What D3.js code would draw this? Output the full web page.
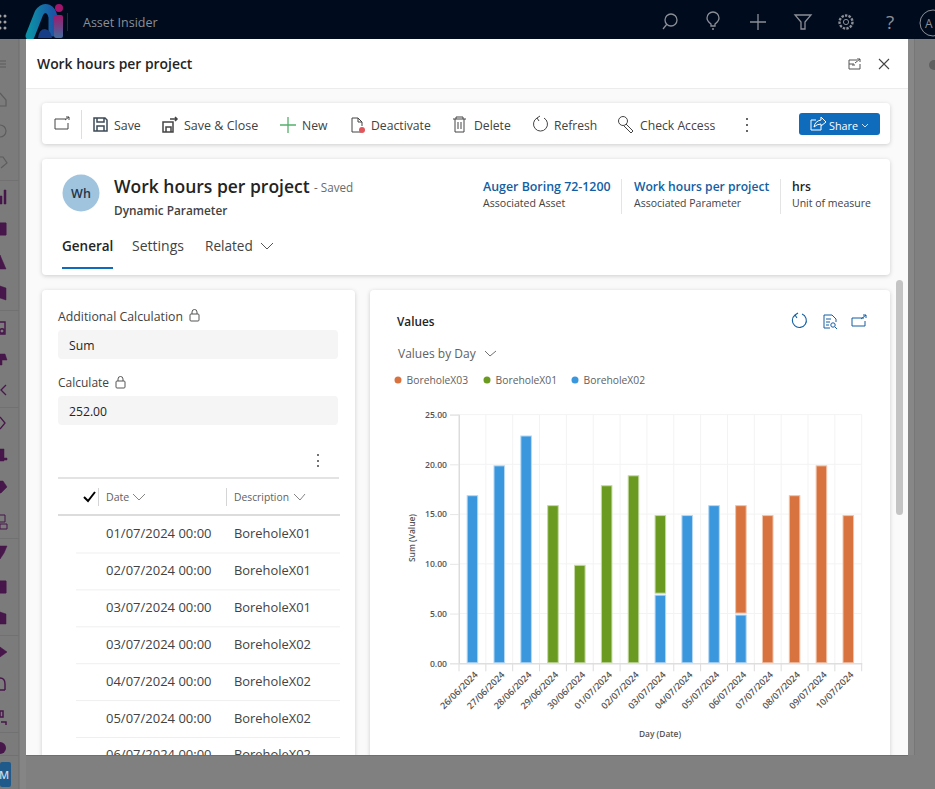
<!DOCTYPE html>
<html>
<head>
<meta charset="utf-8">
<script src="https://cdn.jsdelivr.net/npm/d3@7"></script>
<style>
  html, body { margin: 0; padding: 0; background: #808080; overflow: hidden; }
  text { font-family: "Open Sans", "Noto Sans", sans-serif; }
</style>
</head>
<body>
<svg id="page" width="935" height="789">
  <defs>
    <linearGradient id="logoA" x1="0" y1="0" x2="1" y2="0">
      <stop offset="0" stop-color="#0d8ea6"/><stop offset="1" stop-color="#1a56a5"/>
    </linearGradient>
    <linearGradient id="logoI" x1="0" y1="0" x2="0" y2="1">
      <stop offset="0" stop-color="#a3156c"/><stop offset="1" stop-color="#3f6d9d"/>
    </linearGradient>
  </defs>
</svg>
<script>
const svg = d3.select("#page");

const rect = (x, y, w, h, fill, r = 0) =>
  svg.append("rect").attr("x", x).attr("y", y).attr("width", w).attr("height", h).attr("rx", r).attr("fill", fill);
const label = (x, y, s, size, fill, weight = 400, anchor = "start") =>
  svg.append("text").attr("x", x).attr("y", y).attr("font-size", size).attr("fill", fill)
    .attr("font-weight", weight).attr("text-anchor", anchor).text(s);
const icon = (d, stroke, w = 1.3, fill = "none") =>
  svg.append("path").attr("d", d).attr("fill", fill).attr("stroke", stroke).attr("stroke-width", w);

// --- dimmed app behind the dialog
rect(0, 0, 935, 789, "#808080");
rect(0, 39, 19, 750, "#7b7b7b");
rect(19, 39, 7, 750, "#858585");
rect(18.5, 39, 1, 750, "#6f6f6f");
rect(908, 39, 6, 716, "#878787");
rect(914, 39, 1, 716, "#777777");
rect(0, 0, 935, 39, "#000b1e");
[[0, 16], [0, 22], [0, 28], [5, 16], [5, 22], [5, 28]].forEach(p =>
  svg.append("circle").attr("cx", p[0]).attr("cy", p[1]).attr("r", 1.5).attr("fill", "#a0a0a0"));

// logo
icon("M30 36 L39 13 Q43 7 48 9 Q52 11 53 17 L53 32", "url(#logoA)", 9).attr("stroke-linecap", "round");
svg.append("path").attr("d", "M38 38 Q39 29 45 29 Q51 30 52 38 Z").attr("fill", "#173d86");
rect(54, 15, 9, 23, "url(#logoI)", 2);
svg.append("circle").attr("cx", 59).attr("cy", 8).attr("r", 4).attr("fill", "#a3156c");
rect(67, 13, 1, 18, "#222c3c");
label(83, 27, "Asset Insider", 12.5, "#8b8f96");

// top bar icons
icon("M663 29 L667 24", "#8b8f96");
svg.append("circle").attr("cx", 671).attr("cy", 20).attr("r", 6).attr("fill", "none").attr("stroke", "#8b8f96").attr("stroke-width", 1.3);
icon("M711 26 V24 Q707 21 707 18 A6 6 0 0 1 719 18 Q719 21 715 24 V26 Z M712 29 H714", "#8b8f96");
icon("M750 22 H766 M758 14 V30", "#8b8f96");
icon("M795 15 H811 L805 22 V29 H801 V22 Z", "#8b8f96");
svg.append("circle").attr("cx", 846).attr("cy", 22).attr("r", 6.5).attr("fill", "none").attr("stroke", "#8b8f96").attr("stroke-width", 2.4).attr("stroke-dasharray", "2.4 1.2");
svg.append("circle").attr("cx", 846).attr("cy", 22).attr("r", 2.6).attr("fill", "none").attr("stroke", "#8b8f96");
label(890, 29, "?", 19, "#8b8f96", 400, "middle");
svg.append("circle").attr("cx", 933).attr("cy", 23).attr("r", 13).attr("fill", "none").attr("stroke", "#8b8f96");
label(925, 28, "A", 12, "#8b8f96");

// left rail: glyphs are cut off by the screenshot's left edge
const rail = "#47164a";
const railLine = "#5d5d5d";
icon("M0 61 H6 M0 64 H6 M0 67 H6", railLine, 1);
icon("M0 93 L6 100 V106 H0", railLine, 1.2);
svg.append("circle").attr("cx", 0).attr("cy", 131).attr("r", 6).attr("fill", "none").attr("stroke", railLine).attr("stroke-width", 1.2);
icon("M0 157 H3 L7 163 L1 168", railLine, 1.2);
icon("M0 196 H2 V204 H0 Z M4 190 H6 V204 H4 Z", rail, 0.5, rail);
icon("M0 223 H6 V235 H0 Z", rail, 1, rail);
icon("M0 255 L6 269 H0 Z", rail, 0.5, rail);
icon("M0 286 L6 288 V300 L0 298 Z", rail, 0.5, rail);
icon("M0 322 H5 V334 H0", rail, 1.4);
svg.append("circle").attr("cx", 2).attr("cy", 331).attr("r", 2.2).attr("fill", "none").attr("stroke", rail).attr("stroke-width", 1.4);
icon("M0 354 H5 L7 360 H2 V365 H0 Z", rail, 0.5, rail);
icon("M6 385 L1 390 L6 395", rail, 1.3);
icon("M0 417 L5 423 L0 429", rail, 1.3);
icon("M0 449 H4 V461 H0 Z M0 458 H7 V460 H0 Z", rail, 0.5, rail);
icon("M0 481 L3 481 L7 487 L1 493 L0 493 Z", rail, 0.5, rail);
icon("M0 515 H5 V522 H0 M0 524 H7 V529 H0 Z", rail, 1);
icon("M0 546 L7 546 L4 553 L0 559 Z", rail, 0.5, rail);
icon("M0 581 H6 V593 H0 Z M0 586 H6", rail, 1, rail);
icon("M0 612 L6 614 V624 H0 Z", rail, 0.5, rail);
icon("M0 647 L7 652 L0 657 Z", rail, 0.5, rail);
icon("M0 678 Q5 678 5 684 L5 690 M0 690 H5", rail, 1.4);
icon("M0 711 H3 V717 H0 Z M1 722 H6 V725", rail, 1.5);
svg.append("circle").attr("cx", 0).attr("cy", 748).attr("r", 6).attr("fill", rail);
[180, 310, 407, 538, 635, 732, 755].forEach(y => rect(0, y, 19, 1, "#717171"));
rect(0, 762, 11, 25, "#1f5a8a", 2);
label(-1, 779, "M", 11, "#cfd8e0", 600);
svg.append("circle").attr("cx", 934).attr("cy", 65).attr("r", 5).attr("fill", "#5f5f5f");

// --- dialog
rect(26, 39, 882, 716, "#fafafa");
rect(26, 39, 882, 49, "#ffffff");
rect(26, 88, 882, 1, "#ececec");
label(37, 69, "Work hours per project", 13.9, "#242424", 600);
icon("M857 60 H849 V69 H860 V64 M852 65 H855 M849 64 H854 M855 63 L860 59 M857 59 H860 V62", "#555", 1);
icon("M879 59 L889 69 M889 59 L879 69", "#444", 1.1);

const card = (x, y, w, h) => rect(x, y, w, h, "#ffffff", 4)
  .style("filter", "drop-shadow(0 1px 2px rgba(0,0,0,.18))");

// command bar
card(42, 103, 848, 41);
icon("M66 119 H55 V129 H68 V123 M65 120 L69 117 M66 117 H69 V120", "#444", 1);
rect(81, 110, 1, 29, "#dedede");
icon("M94 118 H105 L107 120 V131 H94 Z M97 118 V122 H104 V118 M97 131 V126 H104 V131", "#3d4a57", 1.5);
label(114, 130, "Save", 12.4, "#424242");
icon("M163 122 H173 V132 H163 Z M166 132 V127 H171 V132 M170 119 H177 M175 117 L177 119 L175 121", "#444", 1.5);
label(184, 130, "Save & Close", 12.5, "#424242");
icon("M280 125 H296 M288 117 V133", "#54b06c", 1.3);
label(302, 130, "New", 12.2, "#424242");
icon("M361 132 H352 V118 H358 L362 122 V126 M358 118 V122 H362", "#444", 1);
svg.append("circle").attr("cx", 362).attr("cy", 130).attr("r", 3).attr("fill", "#e0565b");
label(371, 130, "Deactivate", 12.2, "#424242");
icon("M453 119 H466 M456 119 V117 H463 V119 M455 119 V132 H464 V119 M458 122 V129 M461 122 V129", "#444", 1);
label(474, 130, "Delete", 12.2, "#424242");
icon("M537 118 A7 7 0 1 0 544 118 M537 118 L540 116 M537 118 L539 121", "#444", 1);
label(554, 130, "Refresh", 12.1, "#424242");
svg.append("circle").attr("cx", 623).attr("cy", 121).attr("r", 4.5).attr("fill", "none").attr("stroke", "#444");
icon("M626 124 L633 131 L631 133 L624 126", "#444", 1);
label(640, 130, "Check Access", 12.2, "#424242");
[119, 125, 131].forEach(y => svg.append("circle").attr("cx", 747).attr("cy", y).attr("r", 1).attr("fill", "#333"));
rect(799, 113, 81, 22, "#0f6cbd", 3);
icon("M816 120 H811 V130 H821 V126 M814 127 Q815 121 821 120 V117 L826 122 L821 126 V124 Q817 124 814 127", "#ffffff", 1);
label(829, 130, "Share", 10.8, "#ffffff");
icon("M862 124 L865 127 L868 124", "#ffffff", 0.8);

// record header
card(42, 159, 848, 116);
svg.append("circle").attr("cx", 81).attr("cy", 193).attr("r", 18.5).attr("fill", "#a0c3de");
label(81, 198, "Wh", 12.5, "#1f3548", 600, "middle");
label(114, 193, "Work hours per project", 17.5, "#242424", 600);
label(314, 192, "- Saved", 11.7, "#6b6b6b");
label(114, 215, "Dynamic Parameter", 11.8, "#424242", 600);
label(62, 251, "General", 13.5, "#242424", 600);
rect(62, 267, 51, 2, "#0f6cbd");
label(132, 251, "Settings", 14, "#424242");
label(205, 251, "Related", 13.6, "#424242");
icon("M261 243 L267 249 L273 243", "#555", 1);
label(483, 191, "Auger Boring 72-1200", 12.4, "#115ea3", 600);
label(483, 207, "Associated Asset", 10.6, "#424242");
rect(621, 179, 1, 35, "#e4e4e4");
label(634, 191, "Work hours per project", 12.1, "#115ea3", 600);
label(634, 207, "Associated Parameter", 10.5, "#424242");
rect(780, 179, 1, 35, "#e4e4e4");
label(792, 191, "hrs", 12.2, "#242424", 600);
label(792, 207, "Unit of measure", 10.5, "#424242");

// left form card
card(42, 290, 313, 500);
const lock = (x, y) => {
  rect(x, y, 9, 7, "none", 1).attr("stroke", "#555");
  icon(`M${x + 2} ${y} V${y - 2} A2.5 2.5 0 0 1 ${x + 7} ${y - 2} V${y}`, "#555", 1);
};
label(58, 321, "Additional Calculation", 12.3, "#424242");
lock(190, 314);
rect(58, 330, 280, 29, "#f5f5f5", 4);
label(69, 350, "Sum", 12.2, "#242424");
label(58, 387, "Calculate", 12, "#424242");
lock(116, 381);
rect(58, 396, 280, 29, "#f5f5f5", 4);
label(69, 416, "252.00", 12.2, "#242424");
[455, 461, 466].forEach(y => svg.append("circle").attr("cx", 318).attr("cy", y).attr("r", 1).attr("fill", "#444"));

// table
rect(58, 477, 281, 2, "#e3e3e3");
rect(58, 514, 282, 2, "#dcdcdc");
icon("M84 497 L88 501 L95 492", "#000", 2);
rect(98, 488, 1, 18, "#d5d5d5");
label(106, 501, "Date", 10.6, "#616161");
icon("M133 494 L139 500 L145 494", "#777", 0.9);
rect(226, 488, 1, 18, "#d5d5d5");
label(234, 501, "Description", 10.3, "#616161");
icon("M294 494 L300 500 L305 494", "#777", 0.9);

const rows = [
  ["01/07/2024 00:00", "BoreholeX01"],
  ["02/07/2024 00:00", "BoreholeX01"],
  ["03/07/2024 00:00", "BoreholeX01"],
  ["03/07/2024 00:00", "BoreholeX02"],
  ["04/07/2024 00:00", "BoreholeX02"],
  ["05/07/2024 00:00", "BoreholeX02"],
  ["06/07/2024 00:00", "BoreholeX02"]
];
rows.forEach((r, i) => {
  const y = 538 + i * 36.9;
  label(106, y, r[0], 13, "#424242");
  label(234, y, r[1], 12.9, "#424242");
  if (i < 6) rect(76, y + 14.5, 264, 1, "#efefef");
});

// chart card
card(370, 290, 520, 500);
label(397, 326, "Values", 11.8, "#242424", 600);
icon("M795 315 A7 7 0 1 0 802 314 M795 315 L798 313 M795 315 L797 318", "#115ea3", 1.1);
icon("M830 328 H824 V315 H832 L836 319 V322 M826 319 H831 M826 322 H830 M826 325 H829", "#115ea3", 1);
svg.append("circle").attr("cx", 833).attr("cy", 325).attr("r", 2.2).attr("fill", "none").attr("stroke", "#115ea3");
icon("M835 327 L837 329", "#115ea3", 1);
icon("M864 318 H852 V326 H865 V321 M861 319 L866 315 M863 315 H866 V318", "#115ea3", 1);
label(398, 358, "Values by Day", 12, "#616161");
icon("M485 351 L490 356 L496 351", "#616161", 0.9);

// --- the chart
const data = [
  { day: "26/06/2024", BoreholeX02: 17, BoreholeX01: 0, BoreholeX03: 0 },
  { day: "27/06/2024", BoreholeX02: 20, BoreholeX01: 0, BoreholeX03: 0 },
  { day: "28/06/2024", BoreholeX02: 23, BoreholeX01: 0, BoreholeX03: 0 },
  { day: "29/06/2024", BoreholeX02: 0, BoreholeX01: 16, BoreholeX03: 0 },
  { day: "30/06/2024", BoreholeX02: 0, BoreholeX01: 10, BoreholeX03: 0 },
  { day: "01/07/2024", BoreholeX02: 0, BoreholeX01: 18, BoreholeX03: 0 },
  { day: "02/07/2024", BoreholeX02: 0, BoreholeX01: 19, BoreholeX03: 0 },
  { day: "03/07/2024", BoreholeX02: 7, BoreholeX01: 8, BoreholeX03: 0 },
  { day: "04/07/2024", BoreholeX02: 15, BoreholeX01: 0, BoreholeX03: 0 },
  { day: "05/07/2024", BoreholeX02: 16, BoreholeX01: 0, BoreholeX03: 0 },
  { day: "06/07/2024", BoreholeX02: 5, BoreholeX01: 0, BoreholeX03: 11 },
  { day: "07/07/2024", BoreholeX02: 0, BoreholeX01: 0, BoreholeX03: 15 },
  { day: "08/07/2024", BoreholeX02: 0, BoreholeX01: 0, BoreholeX03: 17 },
  { day: "09/07/2024", BoreholeX02: 0, BoreholeX01: 0, BoreholeX03: 20 },
  { day: "10/07/2024", BoreholeX02: 0, BoreholeX01: 0, BoreholeX03: 15 }
];
const colors = { BoreholeX03: "#d8733f", BoreholeX01: "#6a9a1f", BoreholeX02: "#3a96dd" };
const borders = { BoreholeX03: "#f0c4ab", BoreholeX01: "#c5d9a3", BoreholeX02: "#b5d8f4" };

// legend
const legendX = { BoreholeX03: 398, BoreholeX01: 487, BoreholeX02: 575 };
Object.keys(legendX).forEach(k => {
  svg.append("circle").attr("cx", legendX[k]).attr("cy", 380).attr("r", 3.5).attr("fill", colors[k]);
  label(legendX[k] + 8.6, 384, k, 10.3, "#616161");
});

const x = d3.scaleBand().domain(data.map(d => d.day)).range([459, 861.7]).paddingInner(0.57).paddingOuter(0.285);
const y = d3.scaleLinear().domain([0, 25]).range([663.3, 414.6]);

// grid
const step = x.step();
const edges = d3.range(data.length + 1).map(i => 459 + i * step);
svg.append("g").selectAll("line").data(edges).join("line")
  .attr("x1", d => d).attr("x2", d => d).attr("y1", y(25)).attr("y2", y(0))
  .attr("stroke", (d, i) => i ? "#f3f3f3" : "#dcdcdc");
svg.append("g").selectAll("line").data(edges).join("line")
  .attr("x1", d => d).attr("x2", d => d).attr("y1", y(0)).attr("y2", y(0) + 8)
  .attr("stroke", "#dcdcdc");
svg.append("g").selectAll("line").data(y.ticks(5).slice(1)).join("line")
  .attr("x1", 459).attr("x2", 861.7).attr("y1", d => y(d)).attr("y2", d => y(d))
  .attr("stroke", "#f3f3f3");

// stacked bars, each segment sits 1.5px under its value and leaves a white gap
const series = d3.stack().keys(["BoreholeX02", "BoreholeX01", "BoreholeX03"])(data);
svg.append("g").selectAll("g").data(series).join("g")
  .attr("fill", d => colors[d.key])
  .attr("stroke", d => borders[d.key])
  .selectAll("rect").data(d => d.filter(s => s[1] > s[0])).join("rect")
  .attr("x", d => x(d.data.day) + 0.5)
  .attr("width", x.bandwidth() - 1)
  .attr("y", d => y(d[1]) + 1.5)
  .attr("height", d => y(d[0]) - y(d[1]) - 2)
  .attr("stroke-width", 1);

// axes
const yAxis = svg.append("g").attr("transform", "translate(459,0)")
  .call(d3.axisLeft(y).ticks(5).tickFormat(d3.format(".2f")).tickSize(9).tickPadding(3));
yAxis.select(".domain").attr("stroke", "#dcdcdc");
yAxis.selectAll("line").attr("stroke", "#e6e6e6");
yAxis.selectAll("text").attr("font-size", 8.6).attr("font-weight", 600).attr("fill", "#555")
  .attr("font-family", "'Open Sans', sans-serif");

const xAxis = svg.append("g").attr("transform", `translate(0,${y(0)})`)
  .call(d3.axisBottom(x).tickSize(0).tickPadding(0));
xAxis.select(".domain").attr("stroke", "#dedede").attr("stroke-width", 1.5);
xAxis.selectAll("text")
  .attr("font-size", 9.1).attr("font-weight", 600).attr("fill", "#555")
  .attr("font-family", "'Open Sans', sans-serif")
  .attr("text-anchor", "end")
  .attr("dy", 0)
  .attr("transform", "translate(6,12) rotate(-45)");

svg.append("text").attr("transform", "translate(415,538) rotate(-90)")
  .attr("text-anchor", "middle").attr("font-size", 8.4).attr("font-weight", 600).attr("fill", "#555").text("Sum (Value)");
label(660, 737, "Day (Date)", 8.4, "#555", 600, "middle");

// dialog scrollbar, then everything below the dialog is cut off
rect(896, 280, 7, 235, "#c4c4c4", 3.5);
rect(26, 755, 909, 34, "#808080");
rect(26, 755, 882, 1, "#6f6f6f");
</script>
</body>
</html>
